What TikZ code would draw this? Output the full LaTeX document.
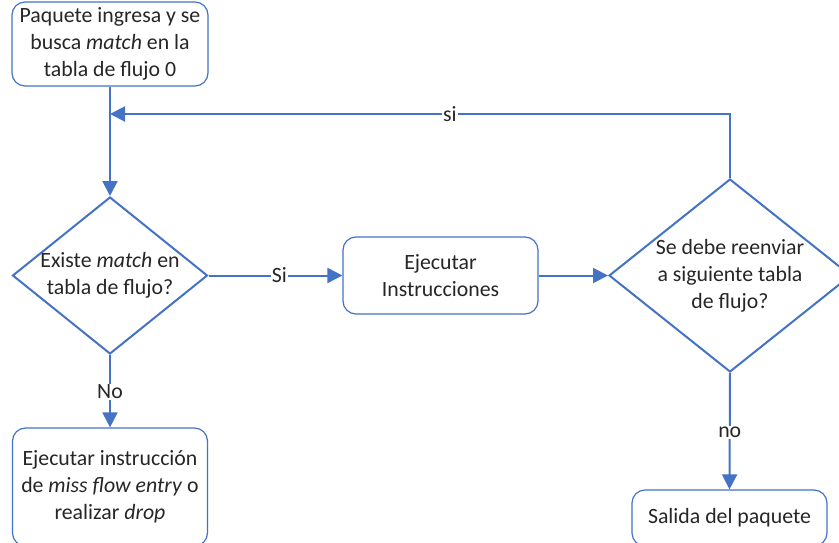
\documentclass[tikz,border=0pt]{standalone}
\usepackage{fontspec}
\setmainfont{Carlito}
\usetikzlibrary{shapes.geometric,arrows.meta}
\definecolor{blu}{HTML}{4472C4}
\definecolor{txt}{HTML}{262626}
\begin{document}
\begin{tikzpicture}[x=1pt,y=-1pt,
  every node/.style={font=\fontsize{21.8}{26.8}\selectfont, text=txt},
  box/.style={draw=blu, line width=1.2pt, rounded corners=13pt, align=center, inner sep=0pt},
  dia/.style={draw=blu, line width=2pt, shape=diamond, inner sep=0pt},
  lbl/.style={align=center},
  arr/.style={draw=blu, line width=2pt, -{Triangle[length=15pt,width=15pt]}},
  tag/.style={fill=white, inner sep=1pt}
]
\useasboundingbox (0,0) rectangle (839,543);
\clip (0,0) rectangle (839,543);
\fill[white] (0,0) rectangle (839,543);

\node[box, minimum width=196pt, minimum height=84pt] (t) at (110,44)
  {Paquete ingresa y se\\busca \textit{match} en la\\tabla de flujo 0};
\node[dia, minimum width=195pt, minimum height=157pt] (d1) at (110,275.5) {};
\node[lbl] at (d1) {Existe \textit{match} en\\tabla de flujo?};
\node[box, minimum width=195pt, minimum height=77pt] (b2) at (440.5,275.5)
  {Ejecutar\\Instrucciones};
\node[dia, minimum width=242pt, minimum height=193pt] (d2) at (730,275.5) {};
\node[lbl] at (d2) {Se debe reenviar\\a siguiente tabla\\de flujo?};
\node[box, minimum width=195pt, minimum height=118pt] (b3) at (110,487)
  {Ejecutar instrucción\\de \textit{miss flow entry} o\\realizar \textit{drop}};
\node[box, minimum width=195pt, minimum height=56pt] (b4) at (729.5,518)
  {Salida del paquete};

\coordinate (j) at (110,114);

\draw[arr] (t.south) -- (d1.north);
\draw[arr] (d1.east) -- node[tag, pos=0.53] {Si} (b2.west);
\draw[arr] (b2.east) -- (d2.west);
\draw[arr] (d1.south) -- node[tag, pos=0.51] {No} (b3.north);
\draw[arr] (d2.south) -- node[tag, pos=0.51] {no} (b4.north);
\draw[arr] (d2.north) |- node[tag, pos=0.726] {si} (j);
\end{tikzpicture}
\end{document}
